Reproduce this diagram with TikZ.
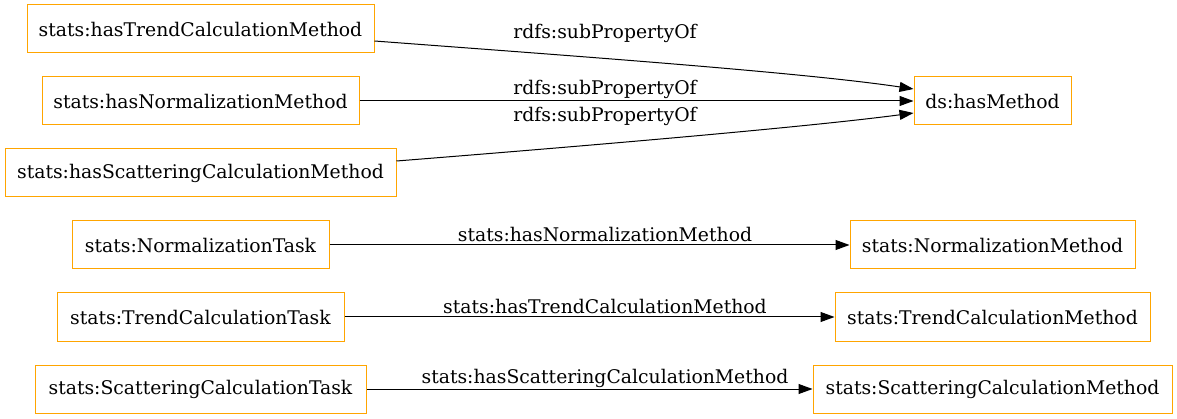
\documentclass[tikz,border=0pt]{standalone}
\usepackage{fontspec}
\setmainfont{DejaVu Serif}
\usetikzlibrary{arrows.meta}
\definecolor{boxorange}{HTML}{FFA500}
\tikzset{
  cls/.style={draw=boxorange, line width=1pt, minimum height=48pt, inner xsep=8pt, font=\fontsize{18.8}{21}\selectfont, anchor=center},
  rel/.style={draw=black, line width=1pt, -{Triangle[length=14pt,width=10pt]}},
  lbl/.style={font=\fontsize{18.8}{21}\selectfont, inner sep=0pt}
}
\begin{document}
\begin{tikzpicture}[x=1pt,y=-1pt]
\useasboundingbox (0,0) rectangle (1177,419);
\node[cls, minimum width=347pt] (trend) at (200.5,29) {stats:hasTrendCalculationMethod};
\node[cls, minimum width=317pt] (norm) at (200.5,101) {stats:hasNormalizationMethod};
\node[cls, minimum width=391pt] (scat) at (200.5,173) {stats:hasScatteringCalculationMethod};
\node[cls, minimum width=157pt] (hm) at (992.5,101) {ds:hasMethod};
\node[cls, minimum width=257pt] (ntask) at (200.5,245) {stats:NormalizationTask};
\node[cls, minimum width=287pt] (ttask) at (200.5,317) {stats:TrendCalculationTask};
\node[cls, minimum width=331pt] (stask) at (200.5,389) {stats:ScatteringCalculationTask};
\node[cls, minimum width=285pt] (nmeth) at (992.5,245) {stats:NormalizationMethod};
\node[cls, minimum width=315pt] (tmeth) at (992.5,317) {stats:TrendCalculationMethod};
\node[cls, minimum width=359pt] (smeth) at (992.5,389) {stats:ScatteringCalculationMethod};

\draw[rel] ([yshift=-12pt]trend.east) .. controls (560,55) and (800,72) .. ([yshift=12pt]hm.west);
\draw[rel] (norm) -- (hm);
\draw[rel] ([yshift=12pt]scat.east) .. controls (560,148) and (800,128) .. ([yshift=-12pt]hm.west);
\draw[rel] (ntask) -- (nmeth);
\draw[rel] (ttask) -- (tmeth);
\draw[rel] (stask) -- (smeth);

\node[lbl] (l1) at (605,33) {rdfs:subPropertyOf};
\node[lbl] (l2) at (605,89) {rdfs:subPropertyOf};
\node[lbl] (l3) at (605,116) {rdfs:subPropertyOf};
\node[lbl] (l4) at (605,234) {stats:hasNormalizationMethod};
\node[lbl] (l5) at (605,306) {stats:hasTrendCalculationMethod};
\node[lbl] (l6) at (605,378) {stats:hasScatteringCalculationMethod};
\end{tikzpicture}
\end{document}
